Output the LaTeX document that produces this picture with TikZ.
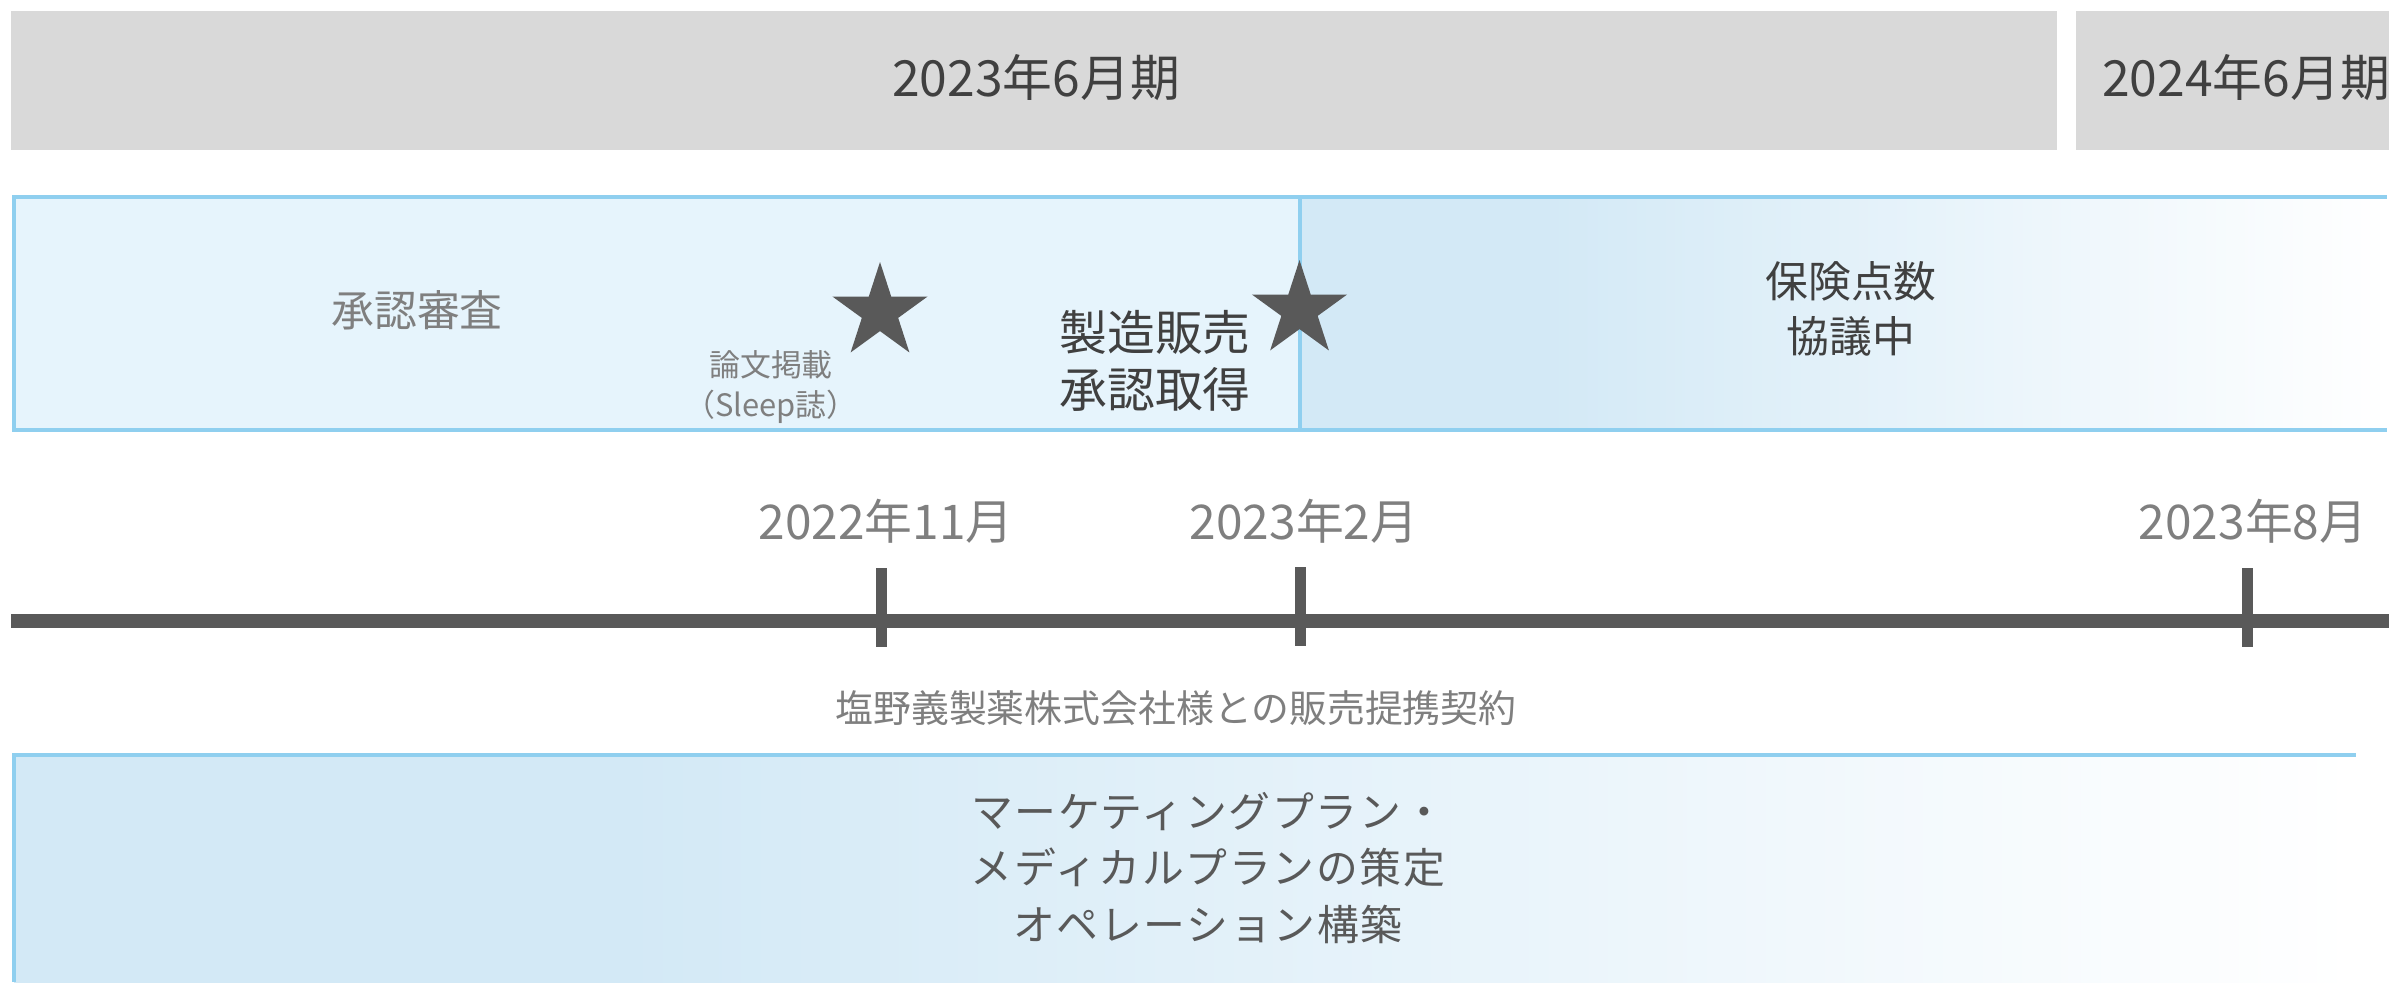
\documentclass[tikz,border=0pt]{standalone}
\usepackage{fontspec}
\newfontfamily\jp{Noto Sans CJK JP}
\usetikzlibrary{shapes.geometric}
\definecolor{bargray}{HTML}{D9D9D9}
\definecolor{bordblue}{HTML}{8FCFEF}
\definecolor{lightfill}{HTML}{E6F4FC}
\definecolor{gstart}{HTML}{D3E9F6}
\definecolor{darktext}{HTML}{404040}
\definecolor{midtext}{HTML}{7F7F7F}
\definecolor{bottext}{HTML}{595959}
\definecolor{linegray}{HTML}{595959}
\pgfdeclarehorizontalshading{rightfade}{100bp}{color(0bp)=(gstart); color(36bp)=(gstart); color(75bp)=(white); color(100bp)=(white)}
\pgfdeclarehorizontalshading{bottomfade}{100bp}{color(0bp)=(gstart); color(38bp)=(gstart); color(75bp)=(white); color(100bp)=(white)}
\tikzset{
  txt/.style={inner sep=0pt, align=center, font=\jp},
  bord/.style={draw=bordblue, line width=4bp},
  startmark/.style={star, star points=5, star point ratio=2.618, minimum size=100bp, inner sep=0pt, fill=linegray, draw=none},
  tick/.style={draw=linegray, line width=11bp},
}
\begin{document}
\begin{tikzpicture}[x=1bp, y=-1bp]
\useasboundingbox (0,0) rectangle (2389,982);
% period bars
\fill[bargray] (11,11) rectangle (2057,150);
\fill[bargray] (2076,11) rectangle (2389,150);
\node[txt, text=darktext, font=\jp\fontsize{50}{60}\selectfont] (p1) at (1036,78) {2023年6月期};
\node[txt, text=darktext, font=\jp\fontsize{50}{60}\selectfont] (p2) at (2246,78) {2024年6月期};
% approval row
\fill[lightfill] (14,197) rectangle (1300,430);
\shade[shading=rightfade] (1300,197) rectangle (2389,430);
\draw[bord] (12,197) -- (2387,197);
\draw[bord] (12,430) -- (2387,430);
\draw[bord] (14,195) -- (14,432);
\draw[bord] (1300,197) -- (1300,430);
\node[txt, text=midtext, font=\jp\fontsize{43}{52}\selectfont] (review) at (417,310) {承認審査};
\node[txt, text=midtext, font=\jp\fontsize{31}{41}\selectfont] (paper) at (771,387) {論文掲載\\（Sleep誌）};
\node[txt, text=darktext, font=\jp\fontsize{48}{57}\selectfont] (approval) at (1155,361) {製造販売\\承認取得};
\node[txt, text=darktext, font=\jp\fontsize{43}{55}\selectfont] (insurance) at (1851,309) {保険点数\\協議中};
\node[startmark] (s1) at (880,312) {};
\node[startmark] (s2) at (1299.5,310) {};
% timeline
\coordinate (tl0) at (11,621);
\coordinate (tl1) at (2389,621);
\draw[draw=linegray, line width=14bp] (tl0) -- (tl1);
\coordinate (k1a) at (881,568); \coordinate (k1b) at (881,647);
\coordinate (k2a) at (1300,567); \coordinate (k2b) at (1300,646);
\coordinate (k3a) at (2247,568); \coordinate (k3b) at (2247,647);
\draw[tick] (k1a) -- (k1b);
\draw[tick] (k2a) -- (k2b);
\draw[tick] (k3a) -- (k3b);
\node[txt, text=midtext, font=\jp\fontsize{48}{58}\selectfont] (d1) at (886,521) {2022年11月};
\node[txt, text=midtext, font=\jp\fontsize{48}{58}\selectfont] (d2) at (1304,521) {2023年2月};
\node[txt, text=midtext, font=\jp\fontsize{48}{58}\selectfont] (d3) at (2253,521) {2023年8月};
% partnership
\node[txt, text=midtext, font=\jp\fontsize{38}{46}\selectfont] (partner) at (1176,708) {塩野義製薬株式会社様との販売提携契約};
\shade[shading=bottomfade] (14,755) rectangle (2356,982);
\draw[bord] (12,755) -- (2356,755);
\draw[bord] (14,753) -- (14,982);
\node[txt, text=bottext, font=\jp\fontsize{42}{57}\selectfont\addfontfeature{LetterSpace=4}] (plan) at (1208,868) {マーケティングプラン・\\メディカルプランの策定\\オペレーション構築};
\end{tikzpicture}
\end{document}
